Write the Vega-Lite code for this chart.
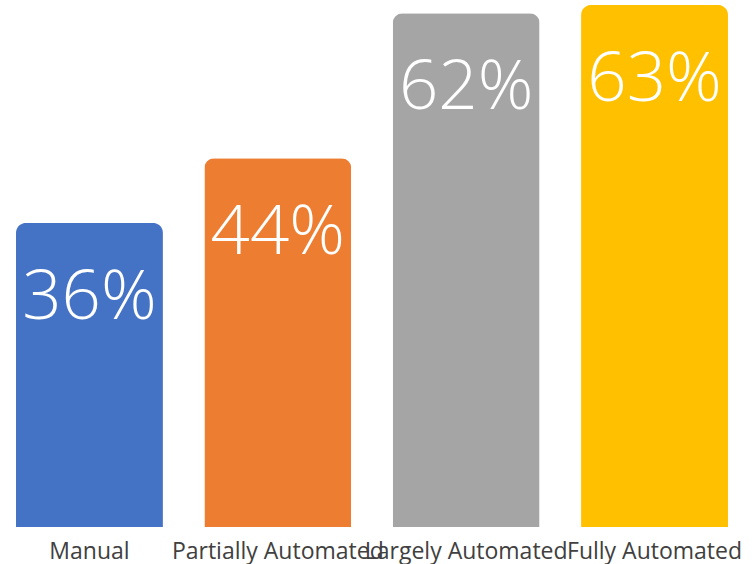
{
  "$schema": "https://vega.github.io/schema/vega-lite/v6.json",
  "autosize": {"type": "none"},
  "width": 744,
  "height": 527,
  "padding": {"left": 0, "top": 0, "right": 10, "bottom": 37},
  "background": "white",
  "config": {"view": {"stroke": null}},
  "data": {"values": [
    {"category": "Manual", "value": 36.7, "label": "36%"},
    {"category": "Partially Automated", "value": 44.5, "label": "44%"},
    {"category": "Largely Automated", "value": 62.0, "label": "62%"},
    {"category": "Fully Automated", "value": 63.0, "label": "63%"}
  ]},
  "encoding": {
    "x": {"field": "category", "type": "nominal", "sort": null,
      "scale": {"paddingInner": 0.22, "paddingOuter": 0.085},
      "axis": {"title": null, "domain": false, "ticks": false, "labelAngle": 0, "labelOverlap": false, "labelLimit": 0,
        "labelFont": "Open Sans", "labelFontSize": 23, "labelColor": "#404040", "labelBaseline": "alphabetic", "labelPadding": 31}},
    "y": {"field": "value", "type": "quantitative", "scale": {"domain": [0, 63.6], "nice": false}, "axis": null}
  },
  "layer": [
    {"mark": {"type": "bar", "cornerRadiusTopLeft": 10, "cornerRadiusTopRight": 10},
     "encoding": {"color": {"field": "category", "type": "nominal", "sort": null, "legend": null,
       "scale": {"domain": ["Manual", "Partially Automated", "Largely Automated", "Fully Automated"], "range": ["#4472C4", "#ED7D31", "#A5A5A5", "#FFC000"]}}}},
    {"mark": {"type": "text", "color": "white", "font": "Open Sans", "fontWeight": 300, "fontSize": 69, "baseline": "alphabetic", "dy": 96},
     "encoding": {"text": {"field": "label"}}}
  ]
}
